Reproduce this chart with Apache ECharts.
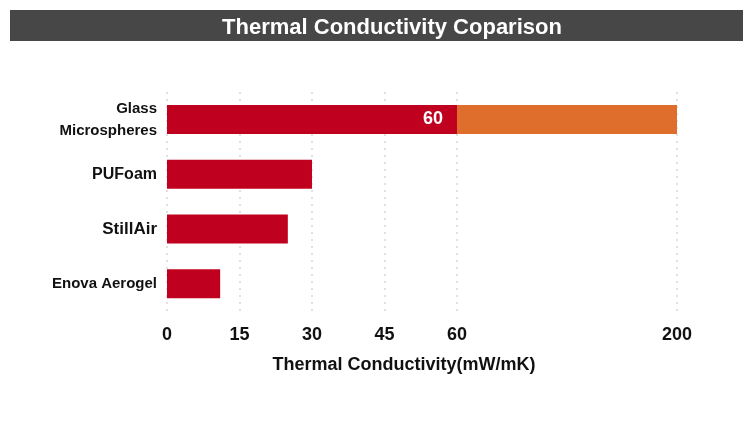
<!DOCTYPE html>
<html lang="en">
<head>
  <meta charset="UTF-8" />
  <title>Thermal Conductivity Coparison</title>
  <script src="https://cdn.jsdelivr.net/npm/echarts@6/dist/echarts.min.js"></script>
  <style>
    html, body { margin: 0; padding: 0; background: #fff; }
    #chart { width: 750px; height: 444px; }
  </style>
</head>
<body>
  <div id="chart"></div>
  <script>
    // data
    const categories = ['Glass\nMicrospheres', 'PUFoam', 'StillAir', 'Enova Aerogel'];
    const lowValues = [60, 30, 25, 11];       // red part
    const highValues = [200, null, null, null]; // orange range end
    const tickValues = [0, 15, 30, 45, 60, 200];

    // broken scale: 0-60 linear, 60-200 squeezed
    const BREAK_AT = 60;
    const SQUEEZE = 45.52 / 140;
    function toAxis(v) {
      return v <= BREAK_AT ? v : BREAK_AT + (v - BREAK_AT) * SQUEEZE;
    }
    function fromAxis(p) {
      return p <= BREAK_AT ? p : BREAK_AT + (p - BREAK_AT) / SQUEEZE;
    }

    const chart = echarts.init(document.getElementById('chart'));
    const font = '"Liberation Sans", Arial, sans-serif';
    const axisTicks = tickValues.map(toAxis);

    const option = {
      animation: false,
      textStyle: { fontFamily: font },
      graphic: [{
        type: 'rect',
        shape: { x: 10, y: 10, width: 733, height: 31 },
        style: { fill: '#474747' },
        z: 0
      }],
      title: {
        text: 'Thermal Conductivity Coparison',
        left: 387,
        top: 12,
        textAlign: 'center',
        textStyle: { color: '#fff', fontSize: 22, fontWeight: 'bold', fontFamily: font }
      },
      grid: { left: 167, right: 73, top: 92, bottom: 133 },
      xAxis: {
        type: 'value',
        min: 0,
        max: toAxis(200),
        name: 'Thermal Conductivity(mW/mK)',
        nameLocation: 'middle',
        nameGap: 45,
        nameTextStyle: {
          color: '#111', fontSize: 18, fontWeight: 'bold', fontFamily: font,
          padding: [0, 36, 0, 0]
        },
        axisLine: { show: false },
        axisTick: { show: false, customValues: axisTicks },
        axisLabel: {
          customValues: axisTicks,
          margin: 15,
          color: '#111',
          fontSize: 18,
          fontWeight: 'bold',
          formatter: v => String(Math.round(fromAxis(v)))
        },
        splitLine: {
          show: true,
          lineStyle: { color: '#d6d6d6', type: [2, 5], width: 1.5 }
        }
      },
      yAxis: {
        type: 'category',
        inverse: true,
        data: categories,
        axisLine: { show: false },
        axisTick: { show: false },
        axisLabel: {
          margin: 10,
          color: '#111',
          fontWeight: 'bold',
          formatter: v => v === 'StillAir' ? '{big|' + v + '}' : (v === 'PUFoam' ? '{mid|' + v + '}' : '{sm|' + v + '}'),
          rich: {
            sm: { fontSize: 15, fontWeight: 'bold', color: '#111', lineHeight: 22, align: 'right' },
            mid: { fontSize: 16, fontWeight: 'bold', color: '#111' },
            big: { fontSize: 17, fontWeight: 'bold', color: '#111' }
          }
        }
      },
      series: [
        {
          name: 'low',
          type: 'bar',
          stack: 'tc',
          barWidth: 29,
          itemStyle: { color: '#C0001F' },
          data: lowValues.map((v, i) => ({
            value: toAxis(v),
            label: {
              show: i === 0,
              position: 'insideRight',
              distance: 14,
              color: '#fff',
              fontSize: 18,
              fontWeight: 'bold',
              formatter: () => String(v)
            }
          }))
        },
        {
          name: 'high',
          type: 'bar',
          stack: 'tc',
          barWidth: 29,
          itemStyle: { color: '#DF6D2C' },
          data: highValues.map((v, i) => v == null ? null : toAxis(v) - toAxis(lowValues[i]))
        }
      ]
    };

    chart.setOption(option);
  </script>
</body>
</html>
